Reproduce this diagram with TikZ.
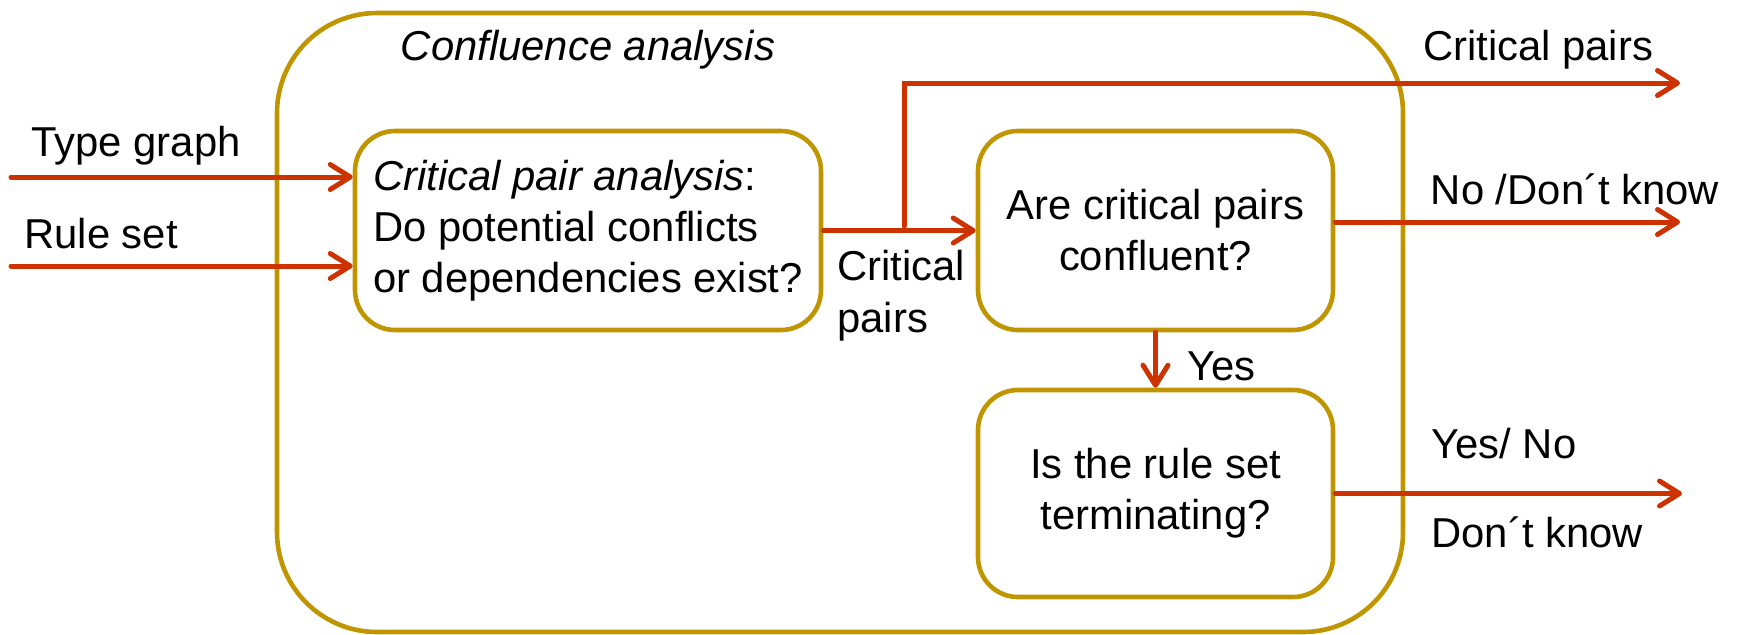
\documentclass[tikz,border=0pt]{standalone}
\usepackage{fontspec}
\setmainfont{Liberation Sans}
\usetikzlibrary{arrows.meta}
\definecolor{gold}{RGB}{192,150,0}
\definecolor{flow}{RGB}{204,51,0}

\begin{document}
\begin{tikzpicture}[x=0.5pt,y=-0.5pt,
  txt/.style={inner sep=0pt,font=\fontsize{20.9}{26}\selectfont},
  box/.style={draw=gold,line width=2.3pt,rounded corners=20pt,inner sep=0pt,
    font=\fontsize{20.9}{25.5}\selectfont,align=center},
  flowline/.style={draw=flow,line width=2.5pt,line cap=round,
    -{Straight Barb[length=10pt,width=12.5pt,line cap=round,line join=round]}}]
\useasboundingbox (0,0) rectangle (1739,634);

% enclosing analysis frame
\node[box,rounded corners=50pt,minimum width=563pt,minimum height=309.5pt] (outer) at (840,322.5) {};
\node[txt,font=\fontsize{20.9}{26}\selectfont\itshape] (title) at (588,50) {Confluence analysis};

% inner steps
\node[box,minimum width=233pt,minimum height=99.5pt,align=left] (cpa) at (588,230.5)
  {{\itshape Critical pair analysis}:\\Do potential conflicts\\or dependencies exist?};
\node[box,minimum width=177.5pt,minimum height=99.5pt] (conf) at (1155.5,230.5)
  {Are critical pairs\\confluent?};
\node[box,minimum width=177.5pt,minimum height=103.5pt] (term) at (1155.5,493.5)
  {Is the rule set\\terminating?};

% inputs
\coordinate (tgin) at (11,177);
\coordinate (rsin) at (11,266);
\node[txt,anchor=west] (tgl) at (31,146) {Type graph};
\node[txt,anchor=west] (rsl) at (24,234) {Rule set};
\draw[flowline] (tgin) -- (cpa.west |- tgin);
\draw[flowline] (rsin) -- (cpa.west |- rsin);

% critical pairs between the steps
\draw[flowline] (cpa.east) -- (conf.west);
\node[txt,anchor=west,align=left] (cpl) at (837,296) {Critical\\pairs};

% branch of critical pairs to the output
\coordinate (br) at (904,226);
\coordinate (cpout) at (1680,83);
\draw[flowline] (br) |- (cpout);
\node[txt] (cpol) at (1538,50) {Critical pairs};

% confluence result
\coordinate (noout) at (1680,222);
\draw[flowline] (conf.east |- noout) -- (noout);
\node[txt] (nol) at (1575,189) {No /Don´t know};

% confluent: go on to termination
\draw[flowline] (conf.south) -- (term.north);
\node[txt,anchor=west] (yesl) at (1187,366) {Yes};

% termination result
\coordinate (tout) at (1682,493.5);
\draw[flowline] (term.east) -- (tout);
\node[txt,anchor=west] (ynl) at (1431,444) {Yes/ No};
\node[txt,anchor=west] (dkl) at (1431,532) {Don´t know};
\end{tikzpicture}
\end{document}
